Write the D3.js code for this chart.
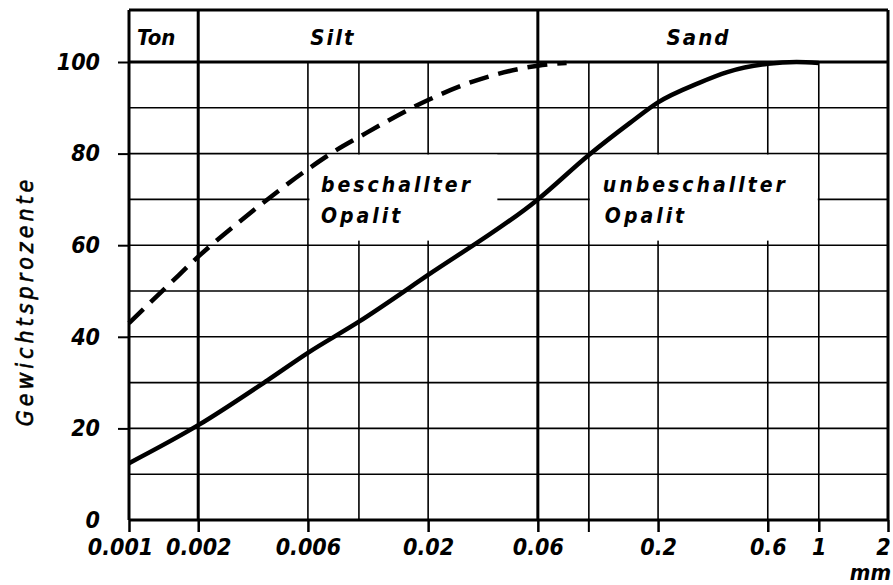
<!DOCTYPE html>
<html>
<head>
<meta charset="utf-8">
<script src="https://cdn.jsdelivr.net/npm/d3@7/dist/d3.min.js"></script>
<style>
  body { margin: 0; background: #fff; }
  svg { display: block; }
  text { font-family: "DejaVu Sans Condensed", "DejaVu Sans", sans-serif; font-style: oblique; fill: #000; }
  .tick-label { font-weight: bold; font-size: 23px; }
  .cls-label { font-size: 22px; font-weight: bold; }
  .curve-label { font-size: 21px; font-weight: bold; letter-spacing: 3px; }
</style>
</head>
<body>
<svg></svg>
<script>
// grain size (mm) and weight percent
const untreatedSize = [0.001, 0.002, 0.004, 0.006, 0.01, 0.02, 0.06, 0.1, 0.15, 0.2, 0.3, 0.4, 0.6, 0.8, 1];
const untreatedPct  = [12.4, 20.7, 30.5, 36.5, 43.3, 53.5, 70, 79.7, 86.6, 91.2, 95.4, 97.8, 99.6, 100, 99.8];

const sonicSize = [0.001, 0.0015, 0.002, 0.003, 0.004, 0.006, 0.008, 0.01, 0.02, 0.03, 0.06, 0.08];
const sonicPct  = [43, 51.5, 57.5, 65, 70, 76.6, 80.8, 83.6, 91.7, 95.4, 99.2, 99.8];

const gridX = [0.001, 0.002, 0.006, 0.01, 0.02, 0.06, 0.1, 0.2, 0.6, 1, 2];
const tickX = [0.001, 0.002, 0.006, 0.02, 0.06, 0.2, 0.6, 1, 2];
const tickXLabels = ['0.001', '0.002', '0.006', '0.02', '0.06', '0.2', '0.6', '1', '2'];
const gridY = [0, 10, 20, 30, 40, 50, 60, 70, 80, 90, 100];
const tickY = [0, 20, 40, 60, 80, 100];

const classNames = ['Ton', 'Silt', 'Sand'];
const classLabelAt = [0.001, 0.0077, 0.3];

const width = 893;
const height = 585;
const left = 129, right = 888, bottom = 520, top100 = 62, headTop = 10;

const svg = d3.select('svg')
    .attr('width', width)
    .attr('height', height);

const x = d3.scaleLog().domain([0.001, 2]).range([left, right]);
const y = d3.scaleLinear().domain([0, 100]).range([bottom, top100]);

const isFrame = d => d === 0.001 || d === 0.002 || d === 0.06 || d === 2;

// grid
const grid = svg.append('g').attr('stroke', '#000').attr('fill', 'none');
grid.selectAll('line.v')
    .data(gridX)
    .enter().append('line')
    .attr('class', 'v')
    .attr('x1', d => x(d)).attr('x2', d => x(d))
    .attr('y1', d => isFrame(d) ? headTop : top100)
    .attr('y2', bottom)
    .attr('stroke-width', d => isFrame(d) ? 3 : 1.6);

grid.selectAll('line.h')
    .data(gridY)
    .enter().append('line')
    .attr('class', 'h')
    .attr('x1', left).attr('x2', right)
    .attr('y1', d => y(d)).attr('y2', d => y(d))
    .attr('stroke-width', d => (d === 0 || d === 100) ? 3 : 1.6);

// header top line
grid.append('line')
    .attr('x1', left).attr('x2', right)
    .attr('y1', headTop).attr('y2', headTop)
    .attr('stroke-width', 3);

// white boxes behind the curve labels (grid is interrupted there)
svg.append('rect')
    .attr('x', x(0.006) + 1.5).attr('y', y(80) + 1)
    .attr('width', x(0.04) - x(0.006) - 1.5).attr('height', y(61) - y(80) - 1)
    .attr('fill', '#fff');
svg.append('rect')
    .attr('x', x(0.1) + 1).attr('y', y(80) + 1)
    .attr('width', x(1) - x(0.1) - 2).attr('height', y(61) - y(80) - 1)
    .attr('fill', '#fff');

// class header labels
svg.selectAll('text.cls')
    .data(classNames)
    .enter().append('text')
    .attr('class', 'cls-label')
    .attr('x', (d, i) => i === 0 ? x(classLabelAt[i]) + 8 : x(classLabelAt[i]))
    .attr('y', 45)
    .attr('text-anchor', (d, i) => i === 0 ? 'start' : 'middle')
    .style('letter-spacing', (d, i) => i === 0 ? '0px' : '2px')
    .text(d => d);

// axes
const xAxis = d3.axisBottom(x)
    .tickValues(tickX)
    .tickFormat((d, i) => tickXLabels[i])
    .tickSize(12)
    .tickPadding(6);
const gx = svg.append('g')
    .attr('transform', `translate(0,${bottom})`)
    .call(xAxis);
gx.select('.domain').remove();
gx.selectAll('.tick line').attr('stroke-width', 2.5).attr('stroke', '#000');
gx.selectAll('.tick text').attr('class', 'tick-label').attr('dy', '0.75em')
    .attr('dx', d => d === 2 ? -5 : d === 0.001 ? -9 : 0);

// small unlabelled tick at 0.1
svg.append('line')
    .attr('x1', x(0.1)).attr('x2', x(0.1))
    .attr('y1', bottom).attr('y2', bottom + 12)
    .attr('stroke', '#000').attr('stroke-width', 2);

const yAxis = d3.axisLeft(y)
    .tickValues(tickY)
    .tickSize(11)
    .tickPadding(18);
const gy = svg.append('g')
    .attr('transform', `translate(${left},0)`)
    .call(yAxis);
gy.select('.domain').remove();
gy.selectAll('.tick line').attr('stroke-width', 2).attr('stroke', '#000')
    .attr('x2', d => d === 0 ? 0 : -11);
gy.selectAll('.tick text').attr('class', 'tick-label');
gx.attr('font-size', null).attr('font-family', null);
gy.attr('font-size', null).attr('font-family', null);

// unit
svg.append('text')
    .attr('class', 'cls-label')
    .attr('x', 891).attr('y', 580)
    .attr('text-anchor', 'end')
    .text('mm');

// y title
svg.append('text')
    .attr('class', 'cls-label')
    .attr('transform', `translate(33,${(y(0) + y(100)) / 2 + 10}) rotate(-90)`)
    .attr('text-anchor', 'middle')
    .style('letter-spacing', '4px')
    .style('font-size', '23px')
    .style('font-weight', 'normal')
    .style('stroke', '#000').style('stroke-width', 0.6)
    .text('Gewichtsprozente');

// curves
const line = d3.line()
    .x(d => x(d[0]))
    .y(d => y(d[1]))
    .curve(d3.curveMonotoneX);

svg.append('path')
    .datum(untreatedSize.map((s, i) => [s, untreatedPct[i]]))
    .attr('d', line)
    .attr('fill', 'none')
    .attr('stroke', '#000')
    .attr('stroke-width', 4.5);

svg.append('path')
    .datum(sonicSize.map((s, i) => [s, sonicPct[i]]))
    .attr('d', line)
    .attr('fill', 'none')
    .attr('stroke', '#000')
    .attr('stroke-width', 4.5)
    .attr('stroke-dasharray', '20 10');

// curve labels
svg.append('text').attr('class', 'curve-label').attr('x', x(0.006) + 13).attr('y', 192).text('beschallter');
svg.append('text').attr('class', 'curve-label').attr('x', x(0.006) + 13).attr('y', 223).text('Opalit');
svg.append('text').attr('class', 'curve-label').attr('x', x(0.1) + 14).attr('y', 192).text('unbeschallter');
svg.append('text').attr('class', 'curve-label').attr('x', x(0.1) + 16).attr('y', 223).text('Opalit');
</script>
</body>
</html>
